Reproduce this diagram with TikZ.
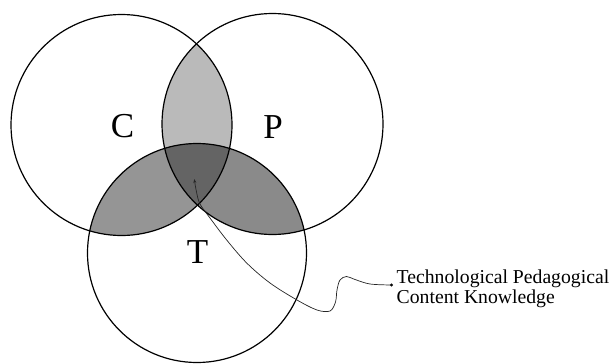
\documentclass[tikz,border=0pt]{standalone}
\usepackage{fontspec}
\setmainfont{Liberation Serif}
\usetikzlibrary{arrows.meta}
\definecolor{lensCP}{HTML}{BABABA}
\definecolor{lensCT}{HTML}{959595}
\definecolor{lensPT}{HTML}{8A8A8A}
\definecolor{lensMid}{HTML}{646464}
\begin{document}
\begin{tikzpicture}[x=1pt,y=-1pt,
  circ/.style={draw=black,line width=1.2pt},
  biglabel/.style={font=\fontsize{35}{40}\selectfont,inner sep=0pt},
  note/.style={font=\fontsize{19.7}{20}\selectfont,inner sep=0pt,align=left,anchor=north west},
  leader/.style={draw=black!85,line width=0.7pt}]
\useasboundingbox (0,0) rectangle (611,364);
\coordinate (cC) at (121.5,125);
\coordinate (cP) at (272.5,124);
\coordinate (cT) at (197,253);
% lenses
\begin{scope}
  \clip (cC) circle[radius=110.5pt];
  \fill[lensCP] (cP) circle[radius=110.5pt];
\end{scope}
\begin{scope}
  \clip (cC) circle[radius=110.5pt];
  \fill[lensCT] (cT) circle[radius=109.5pt];
\end{scope}
\begin{scope}
  \clip (cP) circle[radius=110.5pt];
  \fill[lensPT] (cT) circle[radius=109.5pt];
\end{scope}
\begin{scope}
  \clip (cC) circle[radius=110.5pt];
  \clip (cP) circle[radius=110.5pt];
  \fill[lensMid] (cT) circle[radius=109.5pt];
\end{scope}
% circles
\draw[circ] (cC) circle[radius=110.5pt];
\draw[circ] (cP) circle[radius=110.5pt];
\draw[circ] (cT) circle[radius=109.5pt];
% labels
\node[biglabel] (lC) at (122.5,126.5) {C};
\node[biglabel] (lP) at (273,127) {P};
\node[biglabel] (lT) at (197.5,252.5) {T};
% annotation
\node[note] (tpck) at (396.5,270) {Technological Pedagogical\\Content Knowledge};
\coordinate (dot) at (391.5,285);
\coordinate (tip) at (194.3,179);
\fill (dot) circle[radius=1.6pt];
\draw[leader,-{Stealth[length=4pt,width=3pt]}] plot[smooth,tension=0.55] coordinates {
  (dot) (370,284) (355,279.5) (346.5,276.5) (340,280) (337,290) (335.5,302)
  (330,311) (317,310) (297,300) (270,283) (246.7,263) (226.7,240) (210,218)
  (200,204) (196.5,192) (tip)};
\end{tikzpicture}
\end{document}
